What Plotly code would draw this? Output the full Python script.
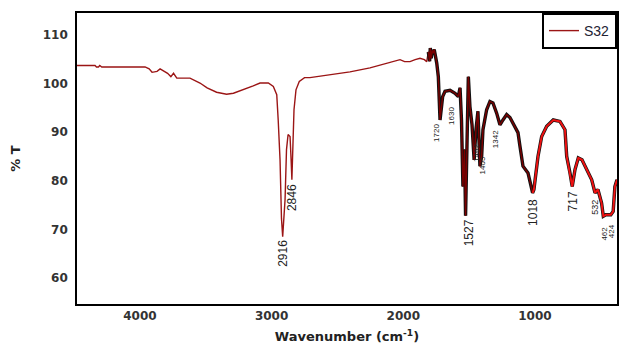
import numpy as np
import plotly.graph_objects as go

# ---- data ----
wavenumber = [4478, 4341, 4330, 4315, 4305, 4290, 3961, 3930, 3908, 3870, 3847, 3820,
              3790, 3765, 3745, 3720, 3620, 3544, 3490, 3418, 3342, 3290, 3215, 3140,
              3088, 3025, 2987, 2961, 2950, 2936, 2925, 2916, 2898, 2887, 2875, 2860,
              2852, 2846, 2830, 2815, 2790, 2750, 2709, 2557, 2405, 2253, 2139, 2025,
              1990, 1949, 1910, 1873, 1840, 1822, 1810, 1800, 1795, 1788, 1780, 1774,
              1765, 1759, 1746, 1734, 1721, 1701, 1683, 1645, 1607, 1582, 1569, 1558,
              1547, 1535, 1527, 1506, 1494, 1478, 1462, 1448, 1433, 1418, 1405, 1395,
              1367, 1342, 1319, 1291, 1266, 1243, 1215, 1190, 1152, 1129, 1114, 1091,
              1053, 1025, 1018, 1008, 977, 949, 911, 861, 810, 772, 759, 734,
              717, 696, 671, 643, 607, 569, 544, 532, 522, 494, 481, 462,
              456, 424, 406, 393, 377]
transmittance = [103.7, 103.7, 103.4, 103.4, 103.7, 103.4, 103.4, 103.0, 102.3, 102.5, 103.0, 102.5,
                 102.1, 101.4, 102.1, 101.1, 101.1, 100.1, 99.1, 98.2, 97.8, 98.0, 98.7, 99.5,
                 100.1, 100.1, 99.4, 97.7, 92.5, 84.3, 72.2, 68.5, 76.1, 86.4, 89.5, 89.1,
                 84.3, 80.2, 94.6, 98.7, 100.4, 101.2, 101.2, 101.8, 102.4, 103.2, 104.0, 104.9,
                 104.5, 104.5, 104.9, 105.2, 104.9, 104.5, 106.5, 104.6, 107.3, 105.2, 106.8, 106.2,
                 107.0, 106.2, 104.2, 101.4, 92.5, 97.3, 98.4, 98.6, 98.0, 97.3, 99.1, 92.5,
                 78.8, 86.4, 72.8, 101.4, 95.3, 91.5, 84.3, 90.5, 94.3, 83.0, 85.0, 90.5,
                 94.6, 96.3, 96.0, 93.9, 91.5, 92.5, 93.6, 93.0, 91.2, 89.9, 87.1, 83.0,
                 81.6, 77.8, 77.5, 78.2, 85.0, 89.1, 91.2, 92.5, 92.2, 90.5, 85.0, 81.6,
                 78.8, 82.3, 84.7, 84.3, 82.3, 80.2, 77.5, 77.8, 78.2, 75.4, 72.7, 73.0,
                 73.0, 73.0, 73.7, 78.8, 80.2]

peak_labels = ["2916", "2846", "1720", "1630", "1527", "1462", "1405", "1342",
               "1018", "717", "532", "462", "424"]
peak_wn = [2916, 2846, 1744, 1630, 1500, 1440, 1395, 1300, 1010, 712, 540, 475, 418]
peak_label_top = [68.3, 79.8, 92.1, 95.6, 72.4, 88.0, 85.4, 90.9, 76.7, 78.2, 76.5, 71.0, 71.4]
peak_label_size = [12, 12, 8, 8, 12, 8, 8, 8, 12, 12, 9, 8, 8]

series_name = "S32"
x_ticks = [4000, 3000, 2000, 1000]
y_ticks = [60, 70, 80, 90, 100, 110]

wn = np.array(wavenumber)
tr = np.array(transmittance)

fig = go.Figure()
fig.add_trace(go.Scatter(x=wn, y=tr, mode="lines", name=series_name,
                         line=dict(color="#9b1515", width=1.4)))
m1 = wn <= 1810
fig.add_trace(go.Scatter(x=wn[m1], y=tr[m1], mode="lines", showlegend=False,
                         line=dict(color="#111111", width=3.4)))
m2 = (wn <= 1810) & (wn >= 1000)
fig.add_trace(go.Scatter(x=wn[m2], y=tr[m2], mode="lines", showlegend=False,
                         line=dict(color="#7a0000", width=1.4)))
m3 = wn <= 1018
fig.add_trace(go.Scatter(x=wn[m3], y=tr[m3], mode="lines", showlegend=False,
                         line=dict(color="#ee1111", width=2.0)))

for lab, x, y, s in zip(peak_labels, peak_wn, peak_label_top, peak_label_size):
    fig.add_annotation(x=x, y=y, text=lab, showarrow=False, textangle=-90,
                       xanchor="center", yanchor="top",
                       font=dict(family="Liberation Sans", size=s, color="#222222"))

axis_font = dict(family="DejaVu Sans", size=12, color="#333333", weight="bold")
title_font = dict(family="DejaVu Sans", size=13, color="#222222", weight="bold")
fig.update_layout(
    width=619, height=345,
    margin=dict(l=77, r=2, t=13, b=41),
    paper_bgcolor="white", plot_bgcolor="white",
    showlegend=True,
    legend=dict(x=1, y=1, xanchor="right", yanchor="top",
                bordercolor="black", borderwidth=2, bgcolor="white",
                font=dict(family="Liberation Sans", size=14, color="#222233"),
                tracegroupgap=0, itemwidth=30),
    xaxis=dict(range=[4478, 377], tickvals=x_ticks, ticks="", showgrid=False,
               zeroline=False, showline=True, linecolor="black", linewidth=1.6,
               mirror=True, tickfont=axis_font, automargin=False,
               title=dict(text="Wavenumber (cm<sup>-1</sup>)", standoff=10, font=title_font)),
    yaxis=dict(range=[54.65, 114.5], tickvals=y_ticks, ticks="", showgrid=False,
               zeroline=False, showline=True, linecolor="black", linewidth=1.6,
               mirror=True, tickfont=axis_font, ticklabelstandoff=5, automargin=False,
               title=dict(text="% T", standoff=19, font=title_font)),
)

fig.write_html("out.html", config={"displayModeBar": False},
               post_script="document.body.style.margin='0';document.body.style.overflow='hidden';")
